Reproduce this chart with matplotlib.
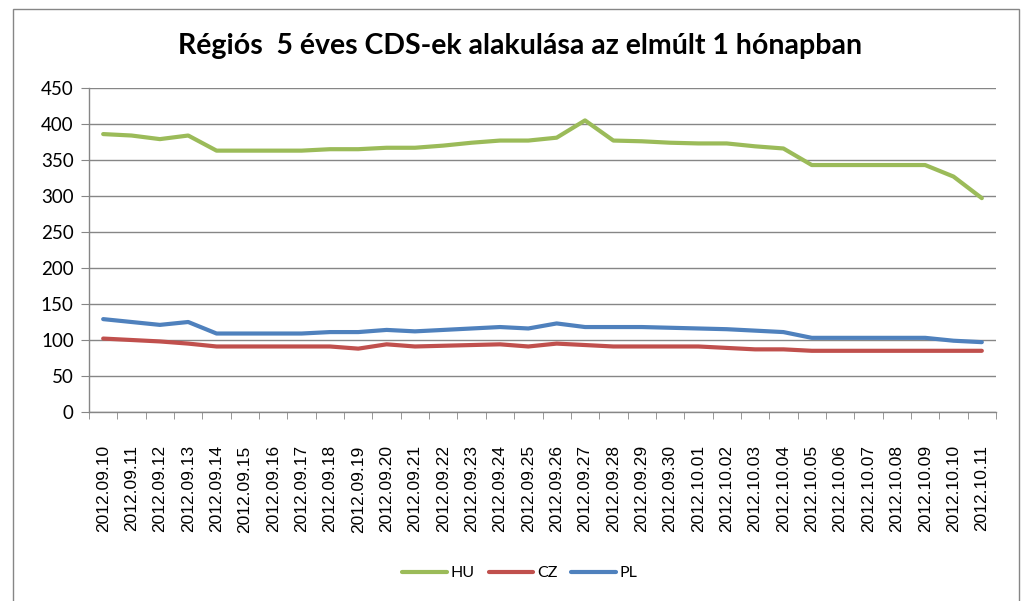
import matplotlib
matplotlib.use("Agg")
import matplotlib.pyplot as plt
from matplotlib.patches import Rectangle
from matplotlib.lines import Line2D
import numpy as np

dates = ["2012.09.10", "2012.09.11", "2012.09.12", "2012.09.13", "2012.09.14", "2012.09.15",
         "2012.09.16", "2012.09.17", "2012.09.18", "2012.09.19", "2012.09.20", "2012.09.21",
         "2012.09.22", "2012.09.23", "2012.09.24", "2012.09.25", "2012.09.26", "2012.09.27",
         "2012.09.28", "2012.09.29", "2012.09.30", "2012.10.01", "2012.10.02", "2012.10.03",
         "2012.10.04", "2012.10.05", "2012.10.06", "2012.10.07", "2012.10.08", "2012.10.09",
         "2012.10.10", "2012.10.11"]
hu = [386, 384, 379, 384, 363, 363, 363, 363, 365, 365, 367, 367, 370, 374, 377, 377,
      381, 405, 377, 376, 374, 373, 373, 369, 366, 343, 343, 343, 343, 343, 327, 297]
cz = [102, 100, 98, 95, 91, 91, 91, 91, 91, 88, 94, 91, 92, 93, 94, 91,
      95, 93, 91, 91, 91, 91, 89, 87, 87, 85, 85, 85, 85, 85, 85, 85]
pl = [129, 125, 121, 125, 109, 109, 109, 109, 111, 111, 114, 112, 114, 116, 118, 116,
      123, 118, 118, 118, 117, 116, 115, 113, 111, 103, 103, 103, 103, 103, 99, 97]
series_names = ["HU", "CZ", "PL"]
colors = ["#9BBB59", "#C0504D", "#4F81BD"]
yticks = [0, 50, 100, 150, 200, 250, 300, 350, 400, 450]
title = "Régiós  5 éves CDS-ek alakulása az elmúlt 1 hónapban"

W, H = 1024, 601
fig = plt.figure(figsize=(W / 100, H / 100), dpi=100)
fig.patch.set_facecolor("white")

# outer chart border
fig.patches.append(Rectangle((13 / W, -0.05), (1019 - 13) / W, 1.05 - 9 / H,
                             transform=fig.transFigure, fill=False,
                             edgecolor="#868686", linewidth=1.0))

ax = fig.add_axes([89 / W, 1 - 412 / H, (996 - 89) / W, (412 - 88) / H])
x = np.arange(len(dates))
for vals, c, n in zip([hu, cz, pl], colors, series_names):
    ax.plot(x, vals, color=c, linewidth=3.0, solid_capstyle="round", label=n, zorder=3)

ax.set_xlim(-0.5, len(dates) - 0.5)
ax.set_ylim(0, 450)
ax.set_yticks(yticks)
ax.set_yticklabels([str(v) for v in yticks], fontfamily="Lato", fontsize=13.5)
ax.yaxis.grid(True, color="#868686", linewidth=1.0)
ax.set_axisbelow(True)

ax.set_xticks(x)
ax.set_xticklabels(dates, rotation=90, fontfamily="Liberation Sans", fontsize=12.5)
ax.tick_params(axis="x", which="major", length=0, pad=24)
ax.set_xticks(np.arange(-0.5, len(dates), 1.0), minor=True)
ax.tick_params(axis="x", which="minor", length=5, color="#868686", direction="out")
ax.tick_params(axis="y", length=6, color="#868686", direction="out", pad=5)

for s in ["top", "right"]:
    ax.spines[s].set_visible(False)
for s in ["left", "bottom"]:
    ax.spines[s].set_color("#868686")
    ax.spines[s].set_linewidth(1.0)

fig.text(520 / W, 1 - 46 / H, title, ha="center", va="center",
         fontfamily="Lato", fontweight="bold", fontsize=20.5)

handles = [Line2D([0], [0], color=c, linewidth=3.0, solid_capstyle="round") for c in colors]
fig.legend(handles, series_names, loc="center", bbox_to_anchor=(520 / W, 1 - 573 / H),
           ncol=3, frameon=False, prop={"family": "Lato", "size": 11.5},
           handlelength=2.8, handletextpad=0.25, columnspacing=0.85)

fig.savefig("out.png", dpi=100)
